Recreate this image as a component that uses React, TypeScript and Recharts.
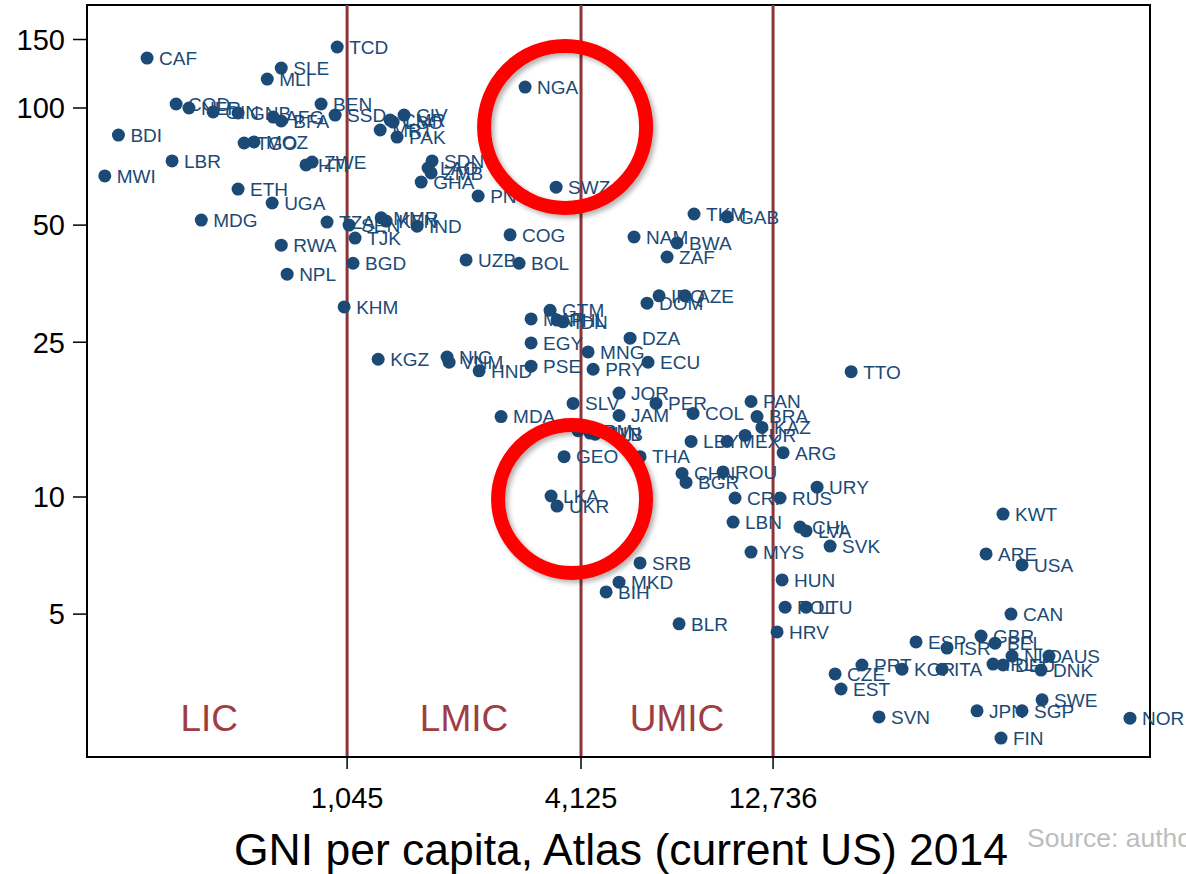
import { ScatterChart, Scatter, XAxis, YAxis, ReferenceLine, ReferenceArea, ReferenceDot } from "recharts";

// country codes, GNI per capita (Atlas, current US$, 2014) and under-5 mortality per 1,000
const countryCodes = [
  "CAF", "SLE", "MLI", "TCD", "COD", "NER", "GIN", "GNB", "AFG", "BFA",
  "BEN", "SSD", "CIV", "CMR", "LSO", "MRT", "PAK", "BDI", "TGO", "MOZ",
  "HTI", "ZWE", "LBR", "MWI", "ETH", "UGA", "MDG", "TZA", "SEN", "TJK",
  "MMR", "KEN", "IND", "RWA", "NPL", "BGD", "KHM", "SDN", "LAO", "ZMB",
  "GHA", "PNG", "COG", "UZB", "BOL", "NGA", "SWZ", "KGZ", "NIC", "VNM",
  "HND", "MAR", "GTM", "PHL", "IDN", "EGY", "PSE", "MNG", "PRY", "DZA",
  "ECU", "JOR", "PER", "JAM", "SLV", "MDA", "GEO", "THA", "ARM", "TUN",
  "ALB", "TKM", "GAB", "NAM", "BWA", "ZAF", "IRQ", "AZE", "DOM", "TTO",
  "PAN", "BRA", "KAZ", "COL", "LBY", "MEX", "TUR", "ARG", "CHN", "BGR",
  "ROU", "URY", "CRI", "RUS", "LBN", "CHL", "LVA", "SVK", "MYS", "HUN",
  "POL", "LTU", "HRV", "LKA", "UKR", "SRB", "MKD", "BIH", "BLR", "ESP",
  "ISR", "PRT", "KOR", "ITA", "CZE", "EST", "SVN", "JPN", "KWT", "ARE",
  "USA", "CAN", "GBR", "BEL", "NLD", "AUS", "IRL", "DEU", "DNK", "SWE",
  "SGP", "NOR", "FIN",
];

const gniPerCapita = [
  323, 710, 654, 986, 383, 413, 476, 551, 677, 710,
  897, 974, 1460, 1345, 1369, 1269, 1401, 273, 571, 605,
  821, 851, 374, 252, 551, 673, 444, 929, 1057, 1095,
  1276, 1314, 1576, 710, 735, 1082, 1027, 1721, 1681, 1711,
  1614, 2255, 2720, 2101, 2868, 2971, 3564, 1254, 1879, 1902,
  2268, 3077, 3440, 3584, 3713, 3077, 3077, 4300, 4429, 5502,
  6113, 5157, 6407, 5157, 3937, 2580, 3735, 5833, 4055, 4351,
  4481, 8009, 9722, 5631, 7249, 6837, 6522, 7597, 6078, 20140,
  11190, 11590, 11930, 7964, 7871, 9722, 10806, 13510, 7465, 7642,
  9496, 16490, 10190, 13270, 10070, 14920, 15460, 17800, 11190, 13430,
  13670, 15460, 13040, 3460, 3584, 5833, 5157, 4780, 7335, 29480,
  35360, 21460, 27150, 34340, 18330, 18980, 23720, 42170, 49120, 44470,
  54920, 51480, 43180, 46870, 51780, 64330, 46320, 49120, 61390, 61770,
  54920, 103500, 48540,
];

const under5Mortality = [
  134.4, 126.7, 118.7, 143.5, 102.4, 100, 97.7, 97.1, 94.8, 92.6,
  102.4, 95.9, 95.9, 93.1, 92.0, 87.8, 84.2, 85.2, 81.3, 81.8,
  71.4, 72.6, 73.1, 66.9, 61.9, 57.0, 51.5, 50.9, 50.0, 46.3,
  52.2, 51.2, 49.7, 44.4, 37.4, 39.9, 30.8, 73.1, 70.1, 68.1,
  64.5, 59.4, 47.2, 40.7, 39.9, 113.2, 62.6, 22.6, 22.9, 22.2,
  21.1, 28.7, 30.2, 28.5, 28.2, 24.9, 21.7, 23.6, 21.3, 25.6,
  22.2, 18.5, 17.4, 16.2, 17.4, 16.1, 12.7, 12.7, 14.8, 14.6,
  14.5, 53.4, 52.5, 46.6, 45.0, 41.4, 32.9, 32.9, 31.5, 21.0,
  17.6, 16.1, 15.1, 16.4, 13.9, 13.9, 14.4, 13.0, 11.5, 10.9,
  11.6, 10.6, 9.94, 9.94, 8.62, 8.37, 8.18, 7.48, 7.22, 6.12,
  5.21, 5.21, 4.5, 10.06, 9.48, 6.77, 6.04, 5.7, 4.72, 4.24,
  4.09, 3.7, 3.61, 3.61, 3.51, 3.21, 2.72, 2.82, 9.04, 7.14,
  6.69, 5.0, 4.39, 4.21, 3.9, 3.9, 3.72, 3.7, 3.59, 3.01,
  2.82, 2.7, 2.4,
];

const incomeCutoffs = [1045, 4125, 12736];
const mortalityTicks = [5, 10, 25, 50, 100, 150];
const groupLabels = ["LIC", "LMIC", "UMIC"];
const groupStarts = [207, 1045, 4125];
const groupEnds = [1045, 4125, 12736];

// the two circled groups: NGA/SWZ and LKA/UKR
const circledGni = [3757, 3914];
const circledMortality = [89.4, 9.88];

const xDomain = [227, 116400];
const yDomain = [2.146, 184];

const points = countryCodes.map((code, i) => ({
  code,
  gni: gniPerCapita[i],
  u5mr: under5Mortality[i],
}));

const BLUE = "#1b4a76";
const MAROON = "#8e3439";
const FONT = "'Liberation Sans', Arial, sans-serif";

const CountryDot = (props: any) => {
  const { cx, cy, payload } = props;
  return (
    <g>
      <circle cx={cx} cy={cy} r={6.5} fill={BLUE} />
      <text x={cx + 12} y={cy} dy="0.36em" fontSize={19} fontFamily={FONT} fill={BLUE}>
        {payload.code}
      </text>
    </g>
  );
};

export default function App() {
  return (
    <div style={{ position: "absolute", left: 0, top: 0, width: 1186, height: 874, overflow: "hidden", background: "#fff" }}>
      <svg width={0} height={0} style={{ position: "absolute" }}>
        <defs>
          <filter id="ringShadow" x="-20%" y="-20%" width="140%" height="140%">
            <feDropShadow dx={3} dy={3} stdDeviation={2.5} floodColor="#000" floodOpacity={0.3} />
          </filter>
        </defs>
      </svg>
      <ScatterChart width={1186} height={874} margin={{ top: 5, right: 36, bottom: 0, left: 0 }}>
        <XAxis
          type="number"
          dataKey="gni"
          scale="log"
          domain={xDomain}
          ticks={incomeCutoffs}
          tickFormatter={(v: number) => v.toLocaleString("en-US")}
          height={117}
          tickSize={12}
          tickMargin={18}
          axisLine={{ stroke: "#000", strokeWidth: 2 }}
          tickLine={{ stroke: "#000", strokeWidth: 1.5 }}
          tick={{ fontSize: 29, fill: "#000", fontFamily: FONT }}
        />
        <YAxis
          type="number"
          dataKey="u5mr"
          scale="log"
          domain={yDomain}
          ticks={mortalityTicks}
          width={87}
          tickSize={14}
          tickMargin={8}
          axisLine={{ stroke: "#000", strokeWidth: 2 }}
          tickLine={{ stroke: "#000", strokeWidth: 1.5 }}
          tick={{ fontSize: 29, fill: "#000", fontFamily: FONT }}
        />
        {groupLabels.map((g, i) => (
          <ReferenceArea
            key={g}
            x1={groupStarts[i]}
            x2={groupEnds[i]}
            y1={yDomain[0]}
            y2={yDomain[1]}
            ifOverflow="visible"
            fill="none"
            stroke="none"
            label={{ value: g, position: "insideBottom", offset: 26, fontSize: 37, fill: "#a03d42", fontFamily: FONT }}
          />
        ))}
        <ReferenceArea
          x1={xDomain[0]}
          x2={xDomain[1]}
          y1={yDomain[0]}
          y2={yDomain[1]}
          fill="none"
          stroke="#000"
          strokeWidth={2}
        />
        {incomeCutoffs.map((c) => (
          <ReferenceLine key={c} x={c} stroke={MAROON} strokeWidth={3} />
        ))}
        <Scatter data={points} shape={CountryDot} isAnimationActive={false} />
        {circledGni.map((g, i) => (
          <ReferenceDot
            key={g}
            x={g}
            y={circledMortality[i]}
            r={i === 0 ? 81 : 74}
            fill="none"
            stroke="#ff0000"
            strokeWidth={14}
            filter="url(#ringShadow)"
          />
        ))}
      </ScatterChart>
      <svg width={1186} height={874} style={{ position: "absolute", left: 0, top: 0, pointerEvents: "none" }}>
        <text x={621} y={865} textAnchor="middle" fontSize={44.5} fontFamily={FONT} fill="#000">
          GNI per capita, Atlas (current US) 2014
        </text>
        <text x={1027} y={847} fontSize={26.5} fontFamily={FONT} fill="#bdbdbd">
          Source: authors' calculations
        </text>
      </svg>
    </div>
  );
}
